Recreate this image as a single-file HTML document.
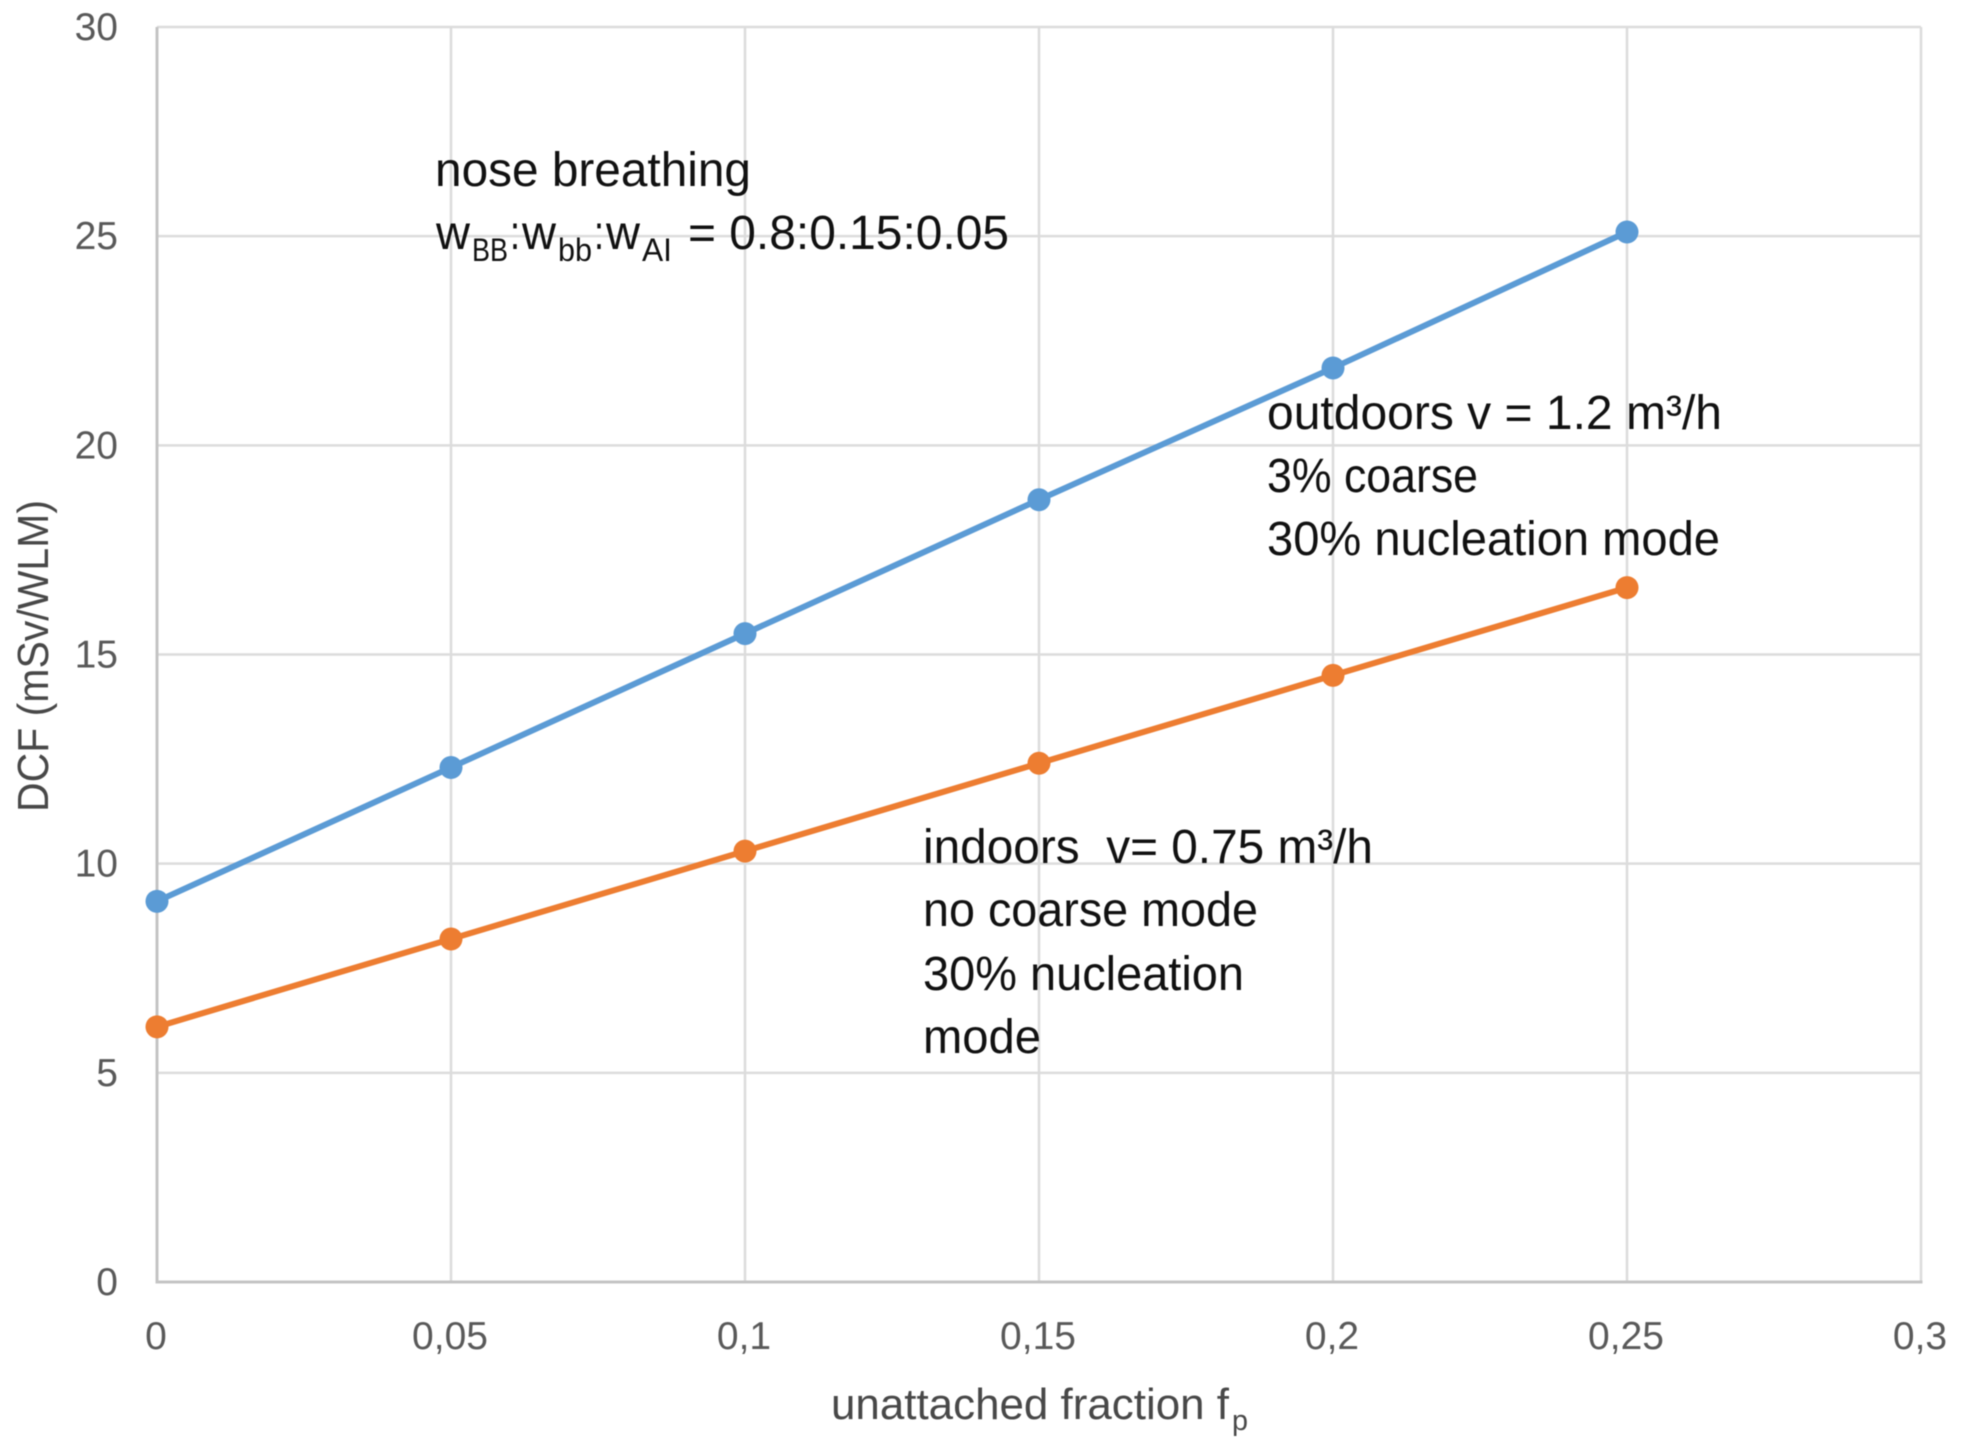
<!DOCTYPE html>
<html lang="en">
<head>
<meta charset="utf-8">
<title>DCF vs unattached fraction</title>
<style>
html,body{margin:0;padding:0;background:#fff;width:1961px;height:1448px;overflow:hidden}
svg{display:block;filter:blur(0.6px)}
text{font-family:"Liberation Sans",sans-serif;white-space:pre}
.tick{font-size:39px;fill:#595959}
.note{font-size:48px;fill:#111}
.sub{font-size:32px;fill:#111}
.title{font-size:44px;fill:#484848}
</style>
</head>
<body>
<svg id="chart" xmlns="http://www.w3.org/2000/svg" width="1961" height="1448" viewBox="0 0 1961 1448">
  <rect x="0" y="0" width="1961" height="1448" fill="#ffffff"/>
  <g id="grid"></g>
  <g id="axes"></g>
  <g id="series"></g>
  <g id="ticks"></g>

  <text class="title" transform="translate(48,812) rotate(-90)" textLength="312" lengthAdjust="spacingAndGlyphs">DCF (mSv/WLM)</text>
  <g>
    <text class="title" x="831" y="1419" textLength="398" lengthAdjust="spacingAndGlyphs">unattached fraction f</text>
    <text class="title" x="1232" y="1430" style="font-size:29px" textLength="16" lengthAdjust="spacingAndGlyphs">p</text>
  </g>

  <g>
    <text class="note" x="435" y="186" textLength="316" lengthAdjust="spacingAndGlyphs">nose breathing</text>
    <text class="note" x="436" y="249" textLength="34" lengthAdjust="spacingAndGlyphs">w</text>
    <text class="sub" x="472" y="261" textLength="36" lengthAdjust="spacingAndGlyphs">BB</text>
    <text class="note" x="510" y="249" textLength="10" lengthAdjust="spacingAndGlyphs">:</text>
    <text class="note" x="522" y="249" textLength="34" lengthAdjust="spacingAndGlyphs">w</text>
    <text class="sub" x="558" y="261" textLength="34" lengthAdjust="spacingAndGlyphs">bb</text>
    <text class="note" x="594" y="249" textLength="10" lengthAdjust="spacingAndGlyphs">:</text>
    <text class="note" x="606" y="249" textLength="34" lengthAdjust="spacingAndGlyphs">w</text>
    <text class="sub" x="642" y="261" textLength="30" lengthAdjust="spacingAndGlyphs">AI</text>
    <text class="note" x="688" y="249" textLength="321" lengthAdjust="spacingAndGlyphs">= 0.8:0.15:0.05</text>
  </g>

  <g>
    <text class="note" x="1267" y="429" textLength="455" lengthAdjust="spacingAndGlyphs">outdoors v = 1.2 m³/h</text>
    <text class="note" x="1267" y="492" textLength="211" lengthAdjust="spacingAndGlyphs">3% coarse</text>
    <text class="note" x="1267" y="555" textLength="453" lengthAdjust="spacingAndGlyphs">30% nucleation mode</text>
  </g>

  <g>
    <text class="note" x="923" y="863" textLength="450" lengthAdjust="spacingAndGlyphs">indoors  v= 0.75 m³/h</text>
    <text class="note" x="923" y="926" textLength="335" lengthAdjust="spacingAndGlyphs">no coarse mode</text>
    <text class="note" x="923" y="990" textLength="321" lengthAdjust="spacingAndGlyphs">30% nucleation</text>
    <text class="note" x="923" y="1053" textLength="118" lengthAdjust="spacingAndGlyphs">mode</text>
  </g>
</svg>
<script>
var xValues = [0, 0.05, 0.1, 0.15, 0.2, 0.25];
var outdoorsValues = [9.1, 12.3, 15.5, 18.7, 21.85, 25.1];
var indoorsValues = [6.1, 8.2, 10.3, 12.4, 14.5, 16.6];
var xTickValues = [0, 0.05, 0.1, 0.15, 0.2, 0.25, 0.3];
var xTickLabels = ["0", "0,05", "0,1", "0,15", "0,2", "0,25", "0,3"];
var yTickValues = [0, 5, 10, 15, 20, 25, 30];
var yTickLabels = ["0", "5", "10", "15", "20", "25", "30"];

var NS = "http://www.w3.org/2000/svg";
var plotLeft = 157, plotRight = 1921, plotTop = 27, plotBottom = 1282;
var xMin = 0, xMax = 0.3, yMin = 0, yMax = 30;

function xScale(v) { return plotLeft + (v - xMin) / (xMax - xMin) * (plotRight - plotLeft); }
function yScale(v) { return plotBottom - (v - yMin) / (yMax - yMin) * (plotBottom - plotTop); }

function make(tag, attrs, parent) {
  var el = document.createElementNS(NS, tag);
  for (var k in attrs) { el.setAttribute(k, attrs[k]); }
  parent.appendChild(el);
  return el;
}

var gridG = document.getElementById("grid");
var axesG = document.getElementById("axes");
var seriesG = document.getElementById("series");
var ticksG = document.getElementById("ticks");

xTickValues.forEach(function (v, i) {
  var x = xScale(v);
  if (v !== xMin) {
    var line = make("line", { x1: x, x2: x, y1: plotTop, y2: plotBottom, stroke: "#dcdcdc", "stroke-width": 2.5 }, gridG);
    
    
  }
  var label = make("text", { x: x - 1, y: 1349, "text-anchor": "middle", "class": "tick" }, ticksG);
  label.textContent = xTickLabels[i];
  
  
});

yTickValues.forEach(function (v, i) {
  var y = yScale(v);
  if (v !== yMin) {
    var line = make("line", { x1: plotLeft, x2: plotRight, y1: y, y2: y, stroke: "#dcdcdc", "stroke-width": 2.5 }, gridG);
    
    
  }
  var label = make("text", { x: 118, y: y + 13, "text-anchor": "end", "class": "tick" }, ticksG);
  label.textContent = yTickLabels[i];
  
  
});

var xAxis = make("line", { x1: plotLeft - 1.5, x2: plotRight + 1.5, y1: yScale(yMin), y2: yScale(yMin), stroke: "#c4c4c4", "stroke-width": 3 }, axesG);


var yAxis = make("line", { x1: xScale(xMin), x2: xScale(xMin), y1: plotTop, y2: plotBottom, stroke: "#c4c4c4", "stroke-width": 3 }, axesG);



function drawSeries(values, color, lineName, pointName) {
  var pts = values.map(function (v, i) { return xScale(xValues[i]) + "," + yScale(v); }).join(" ");
  var line = make("polyline", { points: pts, fill: "none", stroke: color, "stroke-width": 6, "stroke-linejoin": "round" }, seriesG);
  
  
  values.forEach(function (v, i) {
    var dot = make("circle", { cx: xScale(xValues[i]), cy: yScale(v), r: 11.5, fill: color }, seriesG);
    
    
  });
}

drawSeries(outdoorsValues, "#5b9bd5", "outdoors-line", "outdoors-point");
drawSeries(indoorsValues, "#ed7d31", "indoors-line", "indoors-point");
</script>
</body>
</html>
